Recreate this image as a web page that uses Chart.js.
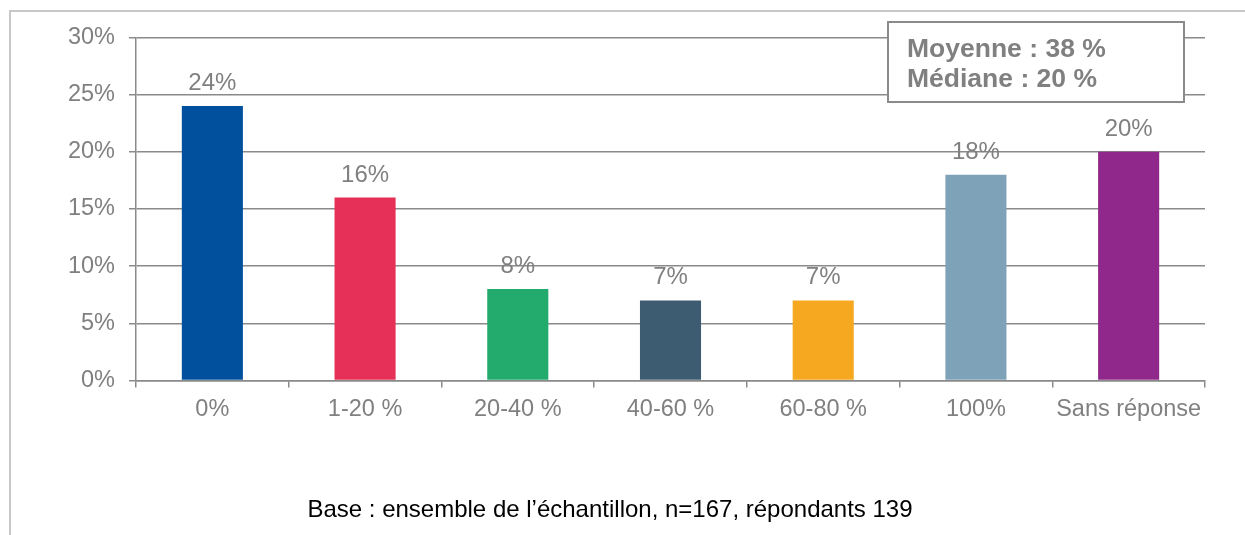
<!DOCTYPE html>
<html>
<head>
<meta charset="utf-8">
<script src="https://cdn.jsdelivr.net/npm/chart.js@4"></script>
<style>
  html, body { margin: 0; padding: 0; background: #fff; }
  #wrap { position: relative; width: 1245px; height: 535px; }
  #frame { position: absolute; left: 9px; top: 10px; right: -5px; bottom: -5px;
           border-left: 2.5px solid #c8c8c8; border-top: 2.5px solid #c8c8c8; }
</style>
</head>
<body>
<div id="wrap">
  <div id="frame"></div>
  <canvas id="chart" width="1245" height="535"></canvas>
</div>
<script>
var labels = ['0%', '1-20 %', '20-40 %', '40-60 %', '60-80 %', '100%', 'Sans réponse'];
var values = [24, 16, 8, 7, 7, 18, 20];
var barColors = ['#00509e', '#e73058', '#22ab6c', '#3d5b71', '#f6a821', '#7ea2b8', '#90278b'];
var yTicks = [0, 5, 10, 15, 20, 25, 30];
var summaryLines = ['Moyenne : 38 %', 'Médiane : 20 %'];
var footnote = 'Base : ensemble de l\u2019échantillon, n=167, répondants 139';

var gray = '#808080';
var lineGray = '#8a8a8a';
var fontFam = "'Liberation Sans', Arial, sans-serif";

//labels over bars
var valueLabels = {
  id: 'valueLabels',
  afterDatasetsDraw: function(chart) {
    var c = chart.ctx;
    var meta = chart.getDatasetMeta(0);
    c.save();
    c.font = '24px ' + fontFam;
    c.fillStyle = gray;
    c.textAlign = 'center';
    c.textBaseline = 'alphabetic';
    meta.data.forEach(function(bar, i) {
      c.fillText(values[i] + '%', bar.x, bar.y - 16);
    });
    c.restore();
  }
};

//summary box + footnote
var extras = {
  id: 'extras',
  afterDraw: function(chart) {
    var c = chart.ctx;
    var area = chart.chartArea;
    c.save();
    var bx = area.right - 317, by = area.top - 15.5, bw = 296, bh = 80;
    c.fillStyle = '#fff';
    c.fillRect(bx, by, bw, bh);
    c.strokeStyle = lineGray;
    c.lineWidth = 2;
    c.strokeRect(bx, by, bw, bh);
    c.fillStyle = gray;
    c.font = 'bold 26.5px ' + fontFam;
    c.textAlign = 'left';
    c.textBaseline = 'alphabetic';
    summaryLines.forEach(function(t, i) {
      c.fillText(t, bx + 19, by + 34.5 + i * 30);
    });
    c.fillStyle = '#000';
    c.font = '24px ' + fontFam;
    c.textAlign = 'center';
    c.fillText(footnote, 610, 517);
    c.restore();
  }
};

var ctx = document.getElementById('chart').getContext('2d');

var chart = new Chart(ctx, {
  type: 'bar',
  data: {
    labels: labels,
    datasets: [{
      data: values,
      backgroundColor: barColors,
      borderWidth: 0,
      categoryPercentage: 1,
      barPercentage: 0.4
    }]
  },
  options: {
    responsive: false,
    animation: false,
    events: [],
    layout: { padding: { top: 37.5, right: 40, bottom: 0, left: 0 } },
    plugins: {
      legend: { display: false },
      tooltip: { enabled: false }
    },
    scales: {
      x: {
        afterFit: function(s) { s.height = 154.5; },
        grid: {
          drawOnChartArea: false,
          drawTicks: true,
          tickLength: 7,
          color: lineGray,
          lineWidth: 1.5
        },
        border: { display: true, color: lineGray, width: 1.5 },
        ticks: {
          color: gray,
          padding: 8,
          maxRotation: 0,
          autoSkip: false,
          font: { family: fontFam, size: 23.5 }
        }
      },
      y: {
        min: 0,
        max: 30,
        afterFit: function(s) { s.width = 136; },
        afterBuildTicks: function(s) {
          s.ticks = yTicks.map(function(v) { return { value: v }; });
        },
        grid: {
          color: lineGray,
          lineWidth: 1.5,
          tickLength: 7
        },
        border: { display: true, color: lineGray, width: 1.5 },
        ticks: {
          color: gray,
          padding: 14,
          font: { family: fontFam, size: 23.5 },
          callback: function(v) { return v + '%'; }
        }
      }
    }
  },
  plugins: [valueLabels, extras]
});
</script>
</body>
</html>
